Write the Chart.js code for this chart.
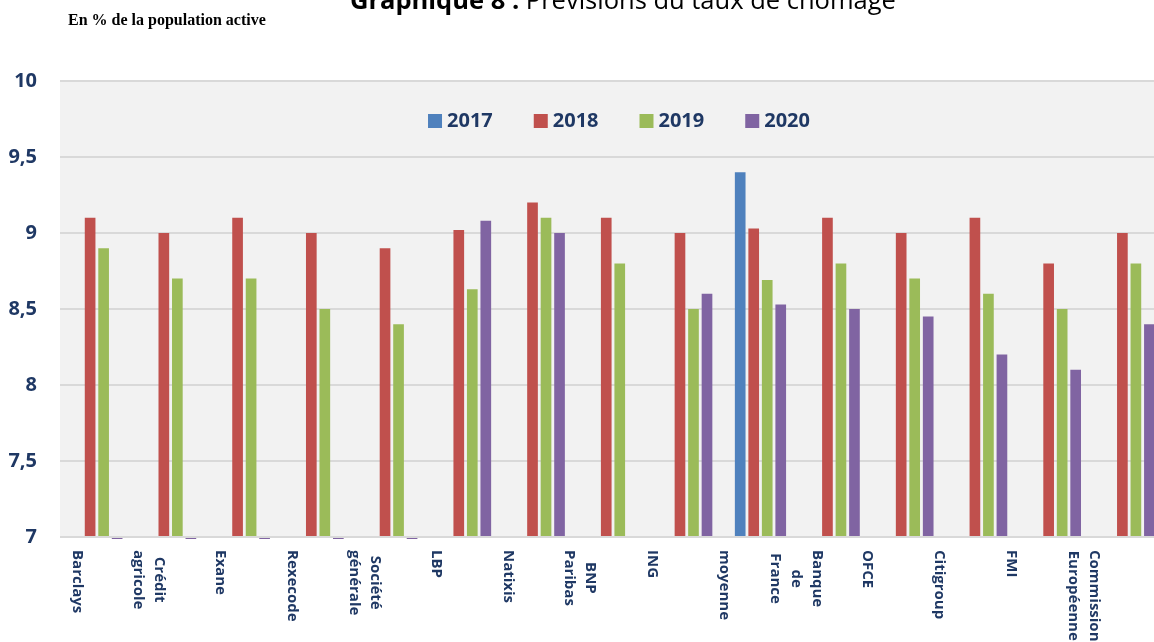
<!DOCTYPE html>
<html lang="fr">

<head>
    <meta charset="UTF-8">
    <meta name="viewport" content="width=device-width, initial-scale=1.0">
    <title>Prévisions du taux de chômage</title>
    <style>
        body { margin: 0; overflow: hidden; background: #fff; }
        #titre {
            position: absolute; left: 350px; top: -13px;
            font-family: 'Open Sans', sans-serif; font-size: 25.5px; line-height: 24px;
            white-space: nowrap; color: #000;
        }
        #unite {
            position: absolute; left: 68px; top: 12px;
            font-family: 'Liberation Serif', serif; font-size: 16px; font-weight: bold;
            line-height: 16px; white-space: nowrap; color: #000;
        }
        #boite { position: absolute; left: 0; top: 0; width: 1166px; height: 642px; }
    </style>
</head>

<script src="https://cdn.jsdelivr.net/npm/chart.js"></script>

<body>
    <div id="boite"><canvas id="chomage" width="1166" height="642"></canvas></div>
    <div id="titre"><b>Graphique 8 :</b> Prévisions du taux de chômage</div>
    <div id="unite">En % de la population active</div>
</body>
<script>
    // instituts (les libellés sur plusieurs lignes sont des tableaux)
    const labels = ['Barclays', ['Crédit', 'agricole'], 'Exane', 'Rexecode', ['Société', 'générale'],
        'LBP', 'Natixis', ['BNP', 'Paribas'], 'ING', 'moyenne', ['Banque', 'de', 'France'],
        'OFCE', 'Citigroup', 'FMI', ['Commission', 'Européenne']];

    const annees = ['2017', '2018', '2019', '2020'];

    const v2017 = [null, null, null, null, null, null, null, null, null, 9.4, null, null, null, null, null];
    const v2018 = [9.1, 9.0, 9.1, 9.0, 8.9, 9.02, 9.2, 9.1, 9.0, 9.03, 9.1, 9.0, 9.1, 8.8, 9.0];
    const v2019 = [8.9, 8.7, 8.7, 8.5, 8.4, 8.63, 9.1, 8.8, 8.5, 8.69, 8.8, 8.7, 8.6, 8.5, 8.8];
    const v2020 = [0, 0, 0, 0, 0, 9.08, 9.0, null, 8.6, 8.53, 8.5, 8.45, 8.2, 8.1, 8.4];

    const yTicks = [7, 7.5, 8, 8.5, 9, 9.5, 10];

    const couleurs = ['#4F81BD', '#C0504D', '#9BBB59', '#8064A2'];
    const bleuNuit = '#1F3864';

    // fond gris de la zone de tracé
    const fondZone = {
        id: 'fondZone',
        beforeDraw(chart) {
            const { ctx, chartArea: a } = chart;
            ctx.save();
            ctx.fillStyle = '#F2F2F2';
            ctx.fillRect(a.left, a.top, a.right - a.left, a.bottom - a.top);
            ctx.restore();
        }
    };

    // légende horizontale dans la zone de tracé
    const legendeZone = {
        id: 'legendeZone',
        afterDraw(chart) {
            const { ctx, chartArea: a } = chart;
            const ds = chart.data.datasets;
            ctx.save();
            ctx.font = 'bold 20px "Open Sans"';
            ctx.textBaseline = 'middle';
            ctx.textAlign = 'left';
            const boite = 14, ecart = 5, espace = 41;
            const largeurs = ds.map(d => boite + ecart + ctx.measureText(d.label).width);
            const total = largeurs.reduce((s, w) => s + w, 0) + espace * (ds.length - 1);
            let x = (a.left + a.right) / 2 + 6 - total / 2;
            const y = a.top + 40;
            ds.forEach((d, i) => {
                ctx.fillStyle = d.backgroundColor;
                ctx.fillRect(x, y - boite / 2, boite, boite);
                ctx.fillStyle = bleuNuit;
                ctx.fillText(d.label, x + boite + ecart, y);
                x += largeurs[i] + espace;
            });
            ctx.restore();
        }
    };

    // libellés verticaux (lecture de haut en bas)
    const libellesX = {
        id: 'libellesX',
        afterDraw(chart) {
            const ctx = chart.ctx;
            const x = chart.scales.x;
            const pas = x.getPixelForTick(1) - x.getPixelForTick(0);
            ctx.save();
            ctx.font = 'bold 15px "Open Sans"';
            ctx.fillStyle = bleuNuit;
            ctx.textAlign = 'center';
            ctx.textBaseline = 'middle';
            labels.forEach((lab, i) => {
                const lignes = Array.isArray(lab) ? lab : [lab];
                const n = lignes.length;
                const larg = Math.max(...lignes.map(l => ctx.measureText(l).width));
                const cx = x.getPixelForTick(0) - 20 + i * pas * 0.975;
                ctx.save();
                ctx.translate(cx, chart.chartArea.bottom + 13);
                ctx.rotate(Math.PI / 2);
                lignes.forEach((l, j) => {
                    ctx.fillText(l, larg / 2, (j - (n - 1) / 2) * 21);
                });
                ctx.restore();
            });
            ctx.restore();
        }
    };

    const series = [v2017, v2018, v2019, v2020];

    const data = {
        labels: labels,
        datasets: series.map((s, i) => ({
            label: annees[i],
            data: s,
            base: 7,
            backgroundColor: couleurs[i],
            borderWidth: 0,
            categoryPercentage: 0.733,
            barPercentage: 0.79,
            clip: { left: 0, top: 0, right: 0, bottom: 2 },
        })),
    };

    const config = {
        type: 'bar',
        data: data,
        options: {
            responsive: false,
            animation: false,
            layout: { padding: { top: 81, left: 0, right: 0, bottom: 0 } },
            plugins: {
                legend: { display: false },
                tooltip: { enabled: false },
            },
            scales: {
                x: {
                    ticks: { display: false },
                    grid: { display: false },
                    border: { display: false },
                    afterFit(scale) { scale.height = 105; },
                },
                y: {
                    min: 7,
                    max: 10,
                    afterBuildTicks(scale) { scale.ticks = yTicks.map(v => ({ value: v })); },
                    ticks: {
                        padding: 23,
                        color: bleuNuit,
                        font: { family: 'Open Sans', size: 20, weight: 'bold' },
                        callback: v => String(v).replace('.', ','),
                    },
                    grid: { color: '#D9D9D9', lineWidth: 2, drawTicks: false },
                    border: { display: false },
                    afterFit(scale) { scale.width = 60; },
                },
            },
        },
        plugins: [fondZone, legendeZone, libellesX],
    };

    const chart1 = new Chart(document.getElementById('chomage'), config);
</script>

</html>
